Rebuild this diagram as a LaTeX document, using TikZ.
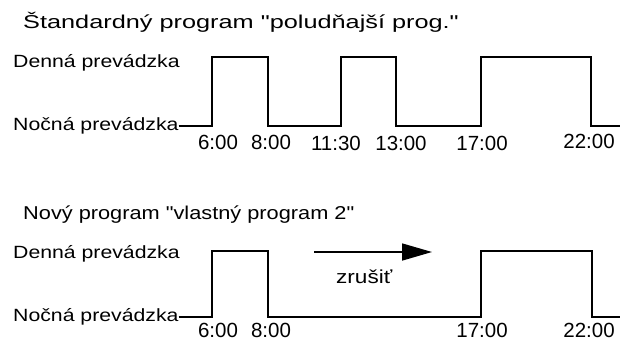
\documentclass[tikz,border=0pt]{standalone}
\usepackage{fontspec}
\setmainfont{Liberation Sans}
\newfontfamily\rowfont[FakeStretch=1.2]{Liberation Sans}
\newfontfamily\titlefont[FakeStretch=1.36]{Liberation Sans}
\newfontfamily\subtitlefont[FakeStretch=1.17]{Liberation Sans}
\usetikzlibrary{arrows.meta, positioning}

\begin{document}
\begin{tikzpicture}[x=1pt, y=-1pt,
    rowlbl/.style={anchor=base west, inner sep=0pt, font=\rowfont\fontsize{17.7}{20}\selectfont},
    ttl/.style={anchor=base west, inner sep=0pt, font=\titlefont\fontsize{18.6}{22}\selectfont},
    wave/.style={line width=1.6pt, line join=miter},
    tick/.style={anchor=base, inner sep=0pt, font=\fontsize{20.5}{24}\selectfont},
]
\useasboundingbox (0,0) rectangle (628,341);
% (a) standard program
\node[ttl] (tA) at (23,28) {Štandardný program "poludňajší prog."};
\node[rowlbl] (dA) at (13,67) {Denná prevádzka};
\node[rowlbl] (nA) at (13,130) {Nočná prevádzka};
\draw[wave] (nA.east |- 0,126) -- (212,126) -- (212,57) -- (268,57) -- (268,126)
  -- (341,126) -- (341,57) -- (396,57) -- (396,126)
  -- (481,126) -- (481,57) -- (591,57) -- (591,126) -- (620,126);
\node[tick] (a1) at (218,149) {6:00};
\node[tick] (a2) at (271,149) {8:00};
\node[tick] (a3) at (336,150) {11:30};
\node[tick] (a4) at (401,150) {13:00};
\node[tick] (a5) at (482,150) {17:00};
\node[tick] (a6) at (589,148) {22:00};
% (b) new program
\node[ttl, font=\subtitlefont\fontsize{18.6}{22}\selectfont] (tB) at (23,219) {Nový program "vlastný program 2"};
\node[rowlbl] (dB) at (13,258) {Denná prevádzka};
\node[rowlbl] (nB) at (13,321) {Nočná prevádzka};
\draw[wave] (nB.east |- 0,317) -- (212,317) -- (212,251) -- (268,251) -- (268,317)
  -- (481,317) -- (481,251) -- (592,251) -- (592,317) -- (620,317);
\coordinate (zs) at (314,252);
\coordinate (ze) at (432,252);
\draw[line width=1.6pt, -{Triangle[length=30pt, width=17pt]}] (zs) -- (ze);
\node[rowlbl, font=\rowfont\fontsize{18.8}{22}\selectfont] (zr) at (336,283) {zrušiť};
\node[tick] (b1) at (218,337) {6:00};
\node[tick] (b2) at (271,337) {8:00};
\node[tick] (b5) at (482,337) {17:00};
\node[tick] (b6) at (589,337) {22:00};
\end{tikzpicture}
\end{document}
